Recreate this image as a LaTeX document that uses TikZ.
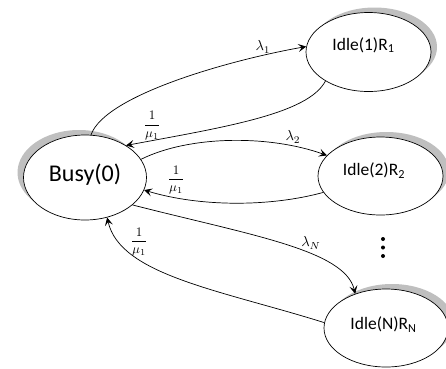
\documentclass[tikz,border=0pt]{standalone}
\usepackage{amsmath}
\usepackage{fontspec}
\setmainfont{Carlito}
\usetikzlibrary{arrows.meta,shadows,shapes.geometric}
\tikzset{
  state/.style={ellipse, draw, line width=0.7pt, fill=white, inner sep=0pt,
    minimum width=125pt, minimum height=79pt},
  shR/.style={drop shadow={shadow xshift=6pt, shadow yshift=5pt, fill=gray!50, opacity=1}},
  shL/.style={drop shadow={shadow xshift=-6pt, shadow yshift=5pt, fill=gray!50, opacity=1}},
  stxt/.style={font=\fontsize{17.5}{20}\selectfont, inner sep=0pt},
  edge/.style={line width=0.7pt, -{Stealth[length=8pt, width=8pt, inset=3.5pt]}},
  elbl/.style={inner sep=0pt},
  flbl/.style={inner sep=0pt}
}
\newcommand{\lbllam}[1]{\scalebox{1.45}{$\lambda_{#1}$}}
\newcommand{\lblfrac}{\scalebox{1.3}{$\dfrac{1}{\mu_1}$}}
\begin{document}
\begin{tikzpicture}[x=1pt, y=-1pt]
\useasboundingbox (0,0) rectangle (446,368);
% states
\node[state, shL, minimum width=123pt, minimum height=85pt] (busy) at (85,177.5) {};
\node[state, shR] (i1) at (368.5,52) {};
\node[state, shR, minimum height=78pt] (i2) at (380.5,176) {};
\node[state, shR, minimum width=124pt, minimum height=78pt] (iN) at (386,328) {};
% state texts
\node[stxt, font=\fontsize{24}{28}\selectfont] (tb) at (85,175) {Busy(0)};
\node[stxt] (t1) at (363.5,45) {Idle(1)R\textsubscript{1}};
\node[stxt] (t2) at (374,170.5) {Idle(2)R\textsubscript{2}};
\node[stxt] (tN) at (383.5,324.5) {Idle(N)R\textsubscript{N}};
% edges
\draw[edge] (busy.82) .. controls (105,95) and (230,60) .. (i1.175);
\draw[edge] (i1.214) .. controls (308,114) and (225,127) .. (busy.38.7);
\draw[edge] (busy.18) .. controls (190,135) and (270,135) .. (i2.159);
\draw[edge] (i2.196) .. controls (270,207) and (200,207) .. (busy.-12);
\draw[edge] (busy.-30) .. controls (250,235) and (345,250) .. (iN.132);
\draw[edge] (iN.175) .. controls (220,290) and (120,275) .. (busy.-61);
% edge labels
\node[elbl] (l1) at (263,47) {\lbllam{1}};
\node[elbl] (l2) at (293,137) {\lbllam{2}};
\node[elbl] (lN) at (311,243) {\lbllam{N}};
\node[flbl] (m1) at (152,125.5) {\lblfrac};
\node[flbl] (m2) at (176,180) {\lblfrac};
\node[flbl] (m3) at (139,242) {\lblfrac};
% vertical dots
\fill (383,239) circle (2pt);
\fill (383,247.5) circle (2pt);
\fill (383,256) circle (2pt);
\end{tikzpicture}
\end{document}
